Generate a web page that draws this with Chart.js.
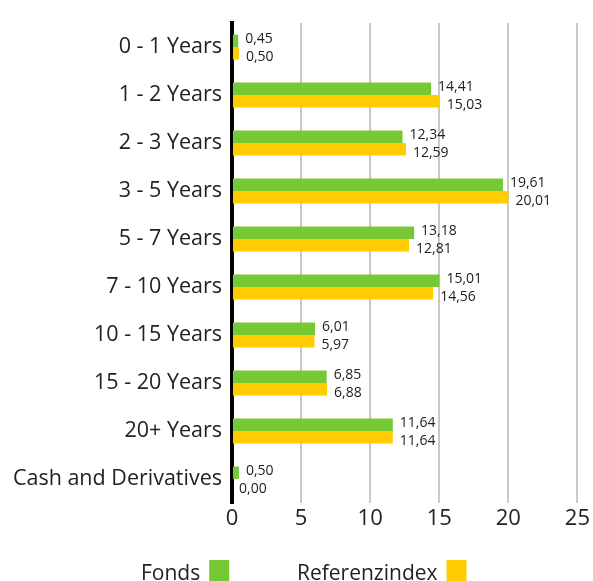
<!DOCTYPE html>
<html>
<head>
<meta charset="utf-8">
<script src="https://cdn.jsdelivr.net/npm/chart.js@4"></script>
<style>
    html, body { margin: 0; padding: 0; background: #fff; }
    #wrap { width: 593px; height: 581px; }
</style>
</head>
<body>
<div id="wrap"><canvas id="myChart" width="593" height="581"></canvas></div>
<script>
// Chart data
const categories = ['0 - 1 Years', '1 - 2 Years', '2 - 3 Years', '3 - 5 Years', '5 - 7 Years',
    '7 - 10 Years', '10 - 15 Years', '15 - 20 Years', '20+ Years', 'Cash and Derivatives'];
const fonds = [0.45, 14.41, 12.34, 19.61, 13.18, 15.01, 6.01, 6.85, 11.64, 0.50];
const referenzindex = [0.50, 15.03, 12.59, 20.01, 12.81, 14.56, 5.97, 6.88, 11.64, 0.00];
const xTicks = [0, 5, 10, 15, 20, 25];

const fontFamily = '"Open Sans", sans-serif';
const textColor = '#222222';

// value labels next to each bar, German decimal comma
const barLabels = {
    id: 'barLabels',
    afterDatasetsDraw(chart) {
        const ctx = chart.ctx;
        ctx.save();
        ctx.font = '14px ' + fontFamily;
        ctx.fillStyle = textColor;
        ctx.textAlign = 'left';
        ctx.textBaseline = 'middle';
        chart.data.datasets.forEach((ds, i) => {
            chart.getDatasetMeta(i).data.forEach((bar, j) => {
                const txt = ds.data[j].toFixed(2).replace('.', ',');
                ctx.fillText(txt, bar.x + 7, bar.y + (i === 0 ? -2 : 4));
            });
        });
        ctx.restore();
    }
};

// legend with the colour box after the text
const sideLegend = {
    id: 'sideLegend',
    afterDraw(chart) {
        const ctx = chart.ctx;
        const starts = [141, 297];
        ctx.save();
        ctx.font = '21px ' + fontFamily;
        ctx.textBaseline = 'alphabetic';
        ctx.textAlign = 'left';
        chart.data.datasets.forEach((ds, i) => {
            ctx.fillStyle = textColor;
            ctx.fillText(ds.label, starts[i], 580);
            const w = ctx.measureText(ds.label).width;
            ctx.fillStyle = ds.backgroundColor;
            ctx.fillRect(starts[i] + w + 9, 560, 20, 21);
        });
        ctx.restore();
    }
};

const ctx = document.getElementById('myChart').getContext('2d');

new Chart(ctx, {
    type: 'bar',
    data: {
        labels: categories,
        datasets: [{
            label: 'Fonds',
            data: fonds,
            backgroundColor: '#76c935',
            categoryPercentage: 0.52,
            barPercentage: 1
        }, {
            label: 'Referenzindex',
            data: referenzindex,
            backgroundColor: '#ffcc00',
            categoryPercentage: 0.52,
            barPercentage: 1
        }]
    },
    options: {
        indexAxis: 'y',
        responsive: false,
        animation: false,
        layout: {
            padding: { top: 23, right: 12, left: 0, bottom: 0 }
        },
        plugins: {
            legend: { display: false },
            tooltip: { enabled: false }
        },
        scales: {
            x: {
                min: 0,
                max: 25,
                afterBuildTicks: scale => {
                    scale.ticks = xTicks.map(v => ({ value: v }));
                },
                afterFit: scale => { scale.height = 78; },
                grid: {
                    color: c => c.tick.value === 0 ? 'rgba(0,0,0,0)' : '#c8c8c8',
                    lineWidth: 2,
                    drawTicks: false
                },
                border: { display: false },
                ticks: {
                    padding: 3,
                    color: textColor,
                    font: { family: fontFamily, size: 22 }
                }
            },
            y: {
                afterFit: scale => { scale.width = 232; },
                grid: { display: false, drawTicks: false },
                border: { display: true, color: '#000000', width: 4 },
                ticks: {
                    padding: 10,
                    color: textColor,
                    font: { family: fontFamily, size: 21.5 }
                }
            }
        }
    },
    plugins: [barLabels, sideLegend]
});
</script>
</body>
</html>
